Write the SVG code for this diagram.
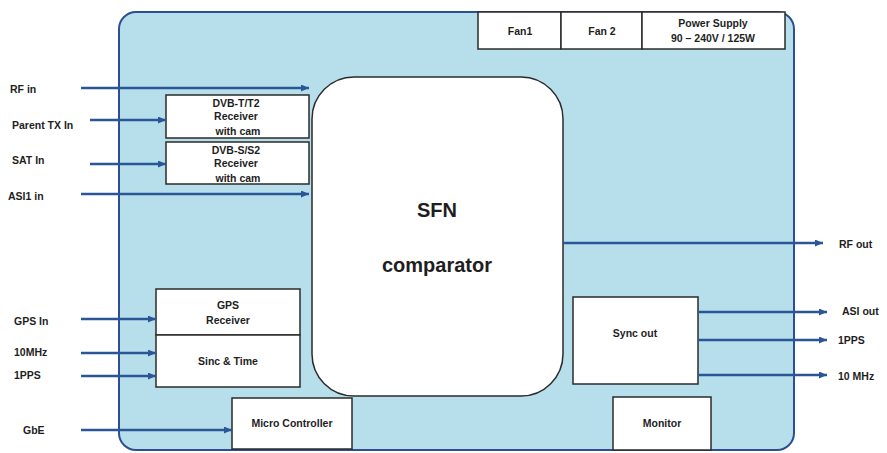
<svg xmlns="http://www.w3.org/2000/svg" width="887" height="453" viewBox="0 0 887 453">
<style>
.t{font-family:"Liberation Sans",Arial,sans-serif;font-weight:bold;font-size:10.5px;fill:#1e1e1e}
.c{text-anchor:middle}
.box{fill:#ffffff;stroke:#2b2b2b;stroke-width:1.5}
.ln{stroke:#2a5596;stroke-width:2.5;fill:none;marker-end:url(#ah)}
</style>
<defs>
<marker id="ah" markerUnits="userSpaceOnUse" markerWidth="8" markerHeight="7" refX="8" refY="3.5" orient="auto">
<path d="M0,0 L8,3.5 L0,7 z" fill="#2a5596"/>
</marker>
</defs>
<rect width="887" height="453" fill="#ffffff"/>
<g id="chassis">
<rect x="119" y="12" width="675" height="438" rx="17" ry="17" fill="#b7dfeb" stroke="#2c4f92" stroke-width="2"/>
</g>
<g id="fan1"><rect class="box" x="478" y="12" width="83" height="37"/><text class="t c" x="520" y="35">Fan1</text></g>
<g id="fan2"><rect class="box" x="561" y="12" width="81" height="37"/><text class="t c" x="602" y="35">Fan 2</text></g>
<g id="psu"><rect class="box" x="642" y="12" width="143" height="37"/><text class="t c" x="713" y="27">Power Supply</text><text class="t c" x="713" y="42">90 – 240V / 125W</text></g>
<g id="sfn"><rect class="box" x="312" y="77" width="251" height="319" rx="42" ry="42" stroke-width="2"/><text class="t c" x="437" y="217" style="font-size:20px">SFN</text><text class="t c" x="437" y="272" style="font-size:20px">comparator</text></g>
<g id="dvbt"><rect class="box" x="166" y="95" width="143" height="43"/><text class="t c" x="236" y="107">DVB-T/T2</text><text class="t c" x="236" y="120">Receiver</text><text class="t c" x="238" y="135">with cam</text></g>
<g id="dvbs"><rect class="box" x="166" y="142" width="143" height="42"/><text class="t c" x="236" y="154">DVB-S/S2</text><text class="t c" x="236" y="167">Receiver</text><text class="t c" x="238" y="182">with cam</text></g>
<g id="gps"><rect class="box" x="156" y="289" width="144" height="46"/><text class="t c" x="228" y="309">GPS</text><text class="t c" x="228" y="324">Receiver</text></g>
<g id="sinc"><rect class="box" x="156" y="335" width="144" height="52"/><text class="t c" x="228" y="365">Sinc &amp; Time</text></g>
<g id="micro"><rect class="box" x="232" y="398" width="120" height="51"/><text class="t c" x="292" y="427">Micro Controller</text></g>
<g id="sync"><rect class="box" x="573" y="297" width="125" height="87"/><text class="t c" x="635" y="337">Sync out</text></g>
<g id="monitor"><rect class="box" x="613" y="397" width="98" height="53"/><text class="t c" x="662" y="427">Monitor</text></g>
<g id="connectors">
<line class="ln" x1="81" y1="88" x2="309" y2="88"/>
<line class="ln" x1="90" y1="120" x2="166" y2="120"/>
<line class="ln" x1="90" y1="164" x2="166" y2="164"/>
<line class="ln" x1="81" y1="194" x2="309" y2="194"/>
<line class="ln" x1="81" y1="319" x2="156" y2="319"/>
<line class="ln" x1="81" y1="353" x2="156" y2="353"/>
<line class="ln" x1="81" y1="376" x2="156" y2="376"/>
<line class="ln" x1="81" y1="430" x2="232" y2="430"/>
<line class="ln" x1="563" y1="243" x2="823" y2="243"/>
<line class="ln" x1="698" y1="312" x2="827" y2="312"/>
<line class="ln" x1="698" y1="340" x2="827" y2="340"/>
<line class="ln" x1="698" y1="375" x2="827" y2="375"/>
</g>
<g id="labels">
<text class="t" x="10" y="93">RF  in</text>
<text class="t" x="12" y="129">Parent TX In</text>
<text class="t" x="12" y="164">SAT In</text>
<text class="t" x="8" y="200">ASI1  in</text>
<text class="t" x="14" y="325">GPS In</text>
<text class="t" x="14" y="356">10MHz</text>
<text class="t" x="14" y="379">1PPS</text>
<text class="t" x="23" y="434">GbE</text>
<text class="t" x="839" y="248">RF out</text>
<text class="t" x="842" y="315">ASI out</text>
<text class="t" x="838" y="344">1PPS</text>
<text class="t" x="838" y="380">10 MHz</text>
</g>
</svg>
